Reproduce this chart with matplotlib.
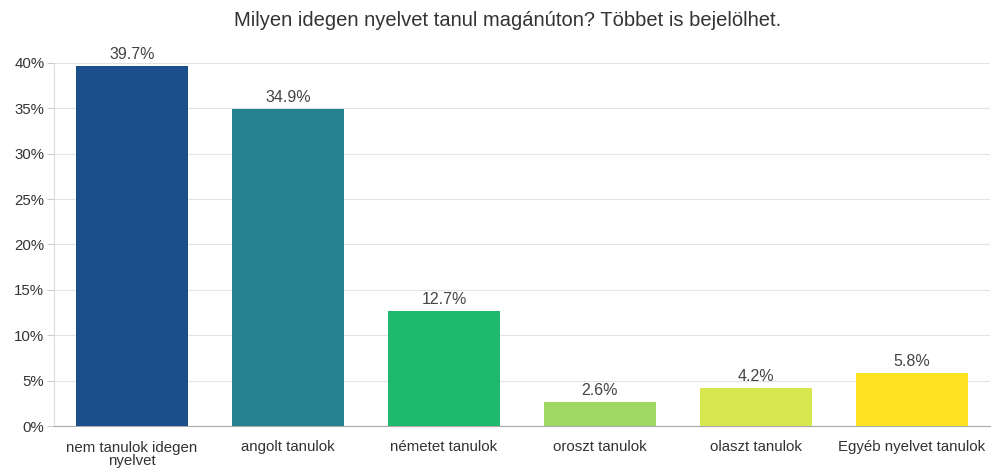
import matplotlib
matplotlib.use("Agg")
import matplotlib.pyplot as plt
import matplotlib.transforms as mtransforms
from matplotlib.ticker import FuncFormatter, MultipleLocator

categories = ["nem tanulok idegen\nnyelvet", "angolt tanulok", "németet tanulok",
              "oroszt tanulok", "olaszt tanulok", "Egyéb nyelvet tanulok"]
values = [39.7, 34.9, 12.7, 2.6, 4.2, 5.8]
colors = ["#1a4f8c", "#23828e", "#1fb96e", "#a0d864", "#d8e74f", "#fde320"]
title = "Milyen idegen nyelvet tanul magánúton? Többet is bejelölhet."

plt.rcParams['font.family'] = ['Liberation Sans', 'DejaVu Sans']

fig = plt.figure(figsize=(9.92, 4.68), dpi=100)
ax = fig.add_axes([54/992, 42/468, 936/992, (426-63)/468])

x = list(range(len(categories)))
ax.bar(x, values, width=112/156, color=colors, zorder=3)
for xi, v in zip(x, values):
    ax.text(xi, v + 0.45, f"{v}%", ha="center", va="bottom", fontsize=11.5, color="#444444")

ax.set_xlim(-0.5, len(categories) - 0.5)
ax.set_ylim(0, 40)
ax.yaxis.set_major_locator(MultipleLocator(5))
ax.yaxis.set_major_formatter(FuncFormatter(lambda v, p: f"{int(v)}%"))
ax.set_xticks(x)
ax.set_xticklabels(categories, fontsize=10.8, color="#333333", linespacing=0.92)
ax.tick_params(axis="x", length=0, pad=18)
for lbl in ax.get_xticklabels():
    lbl.set_verticalalignment("baseline")
    if "\n" in lbl.get_text():
        n = lbl.get_text().count("\n")
        lbl.set_transform(lbl.get_transform() +
                          mtransforms.ScaledTranslation(0, -14.5 * n / 100, fig.dpi_scale_trans))
ax.tick_params(axis="y", length=5, color="#cccccc", labelsize=10.8, labelcolor="#333333", pad=2)
ax.grid(axis="y", color="#e3e3e3", linewidth=0.8, zorder=0)
for s in ["top", "right"]:
    ax.spines[s].set_visible(False)
ax.spines["left"].set_color("#dddddd")
ax.spines["bottom"].set_color("#aaaaaa")
ax.spines["left"].set_zorder(0)

fig.text(508/992, 1 - 20/468, title, ha="center", va="center", fontsize=14.5, color="#333333")

fig.savefig("out.png", dpi=100)
